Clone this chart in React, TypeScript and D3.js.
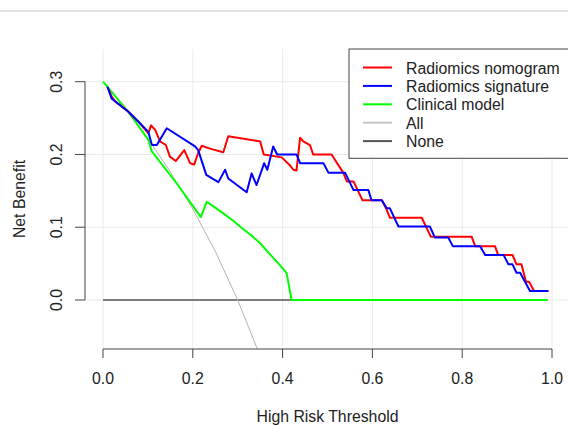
import React from "react";
import * as d3 from "d3";

const W = 568;
const H = 426;

const xTicks = [0, 0.2, 0.4, 0.6, 0.8, 1.0];
const yTicks = [0, 0.1, 0.2, 0.3];

const legendLabels = ["Radiomics nomogram", "Radiomics signature", "Clinical model", "All", "None"];
const legendColors = ["#ff0000", "#0000ff", "#00ff00", "#c4c4c4", "#555555"];

const nomogram: [number, number][] = [
  [0.01, 0.293], [0.019, 0.28], [0.027, 0.273], [0.056, 0.259], [0.079, 0.245], [0.101, 0.229],
  [0.107, 0.24], [0.116, 0.234], [0.127, 0.218], [0.14, 0.213], [0.149, 0.197], [0.162, 0.191],
  [0.181, 0.206], [0.194, 0.188], [0.203, 0.186], [0.212, 0.202], [0.22, 0.212], [0.238, 0.208],
  [0.268, 0.203], [0.279, 0.225], [0.35, 0.218], [0.358, 0.2], [0.398, 0.196], [0.415, 0.186],
  [0.424, 0.179], [0.431, 0.178], [0.439, 0.223], [0.446, 0.218], [0.461, 0.213], [0.468, 0.2],
  [0.509, 0.2], [0.535, 0.175], [0.543, 0.163], [0.558, 0.163], [0.578, 0.137], [0.621, 0.137],
  [0.632, 0.124], [0.639, 0.113], [0.71, 0.113], [0.73, 0.087], [0.821, 0.087], [0.829, 0.074],
  [0.873, 0.074], [0.88, 0.062], [0.912, 0.062], [0.921, 0.049], [0.932, 0.049], [0.942, 0.025],
  [0.949, 0.025], [0.96, 0.0124], [0.992, 0.0124],
];

const signature: [number, number][] = [
  [0.01, 0.293], [0.019, 0.277], [0.056, 0.259], [0.079, 0.245], [0.101, 0.231], [0.109, 0.213],
  [0.12, 0.213], [0.142, 0.236], [0.205, 0.211], [0.212, 0.206], [0.23, 0.172], [0.257, 0.162],
  [0.272, 0.179], [0.279, 0.167], [0.32, 0.148], [0.331, 0.174], [0.342, 0.158], [0.359, 0.188],
  [0.366, 0.179], [0.379, 0.211], [0.388, 0.2], [0.431, 0.2], [0.439, 0.188], [0.491, 0.188],
  [0.502, 0.175], [0.539, 0.175], [0.558, 0.151], [0.591, 0.151], [0.598, 0.137], [0.621, 0.137],
  [0.632, 0.126], [0.639, 0.126], [0.658, 0.101], [0.728, 0.101], [0.739, 0.086], [0.769, 0.086],
  [0.779, 0.074], [0.84, 0.074], [0.851, 0.062], [0.892, 0.062], [0.903, 0.049], [0.912, 0.049],
  [0.921, 0.0375], [0.929, 0.0375], [0.951, 0.0124], [0.992, 0.0124],
];

const clinical: [number, number][] = [
  [0, 0.3], [0.056, 0.259], [0.101, 0.22], [0.108, 0.205], [0.168, 0.157], [0.218, 0.114],
  [0.231, 0.135], [0.25, 0.127], [0.268, 0.119], [0.29, 0.109], [0.305, 0.101], [0.33, 0.089],
  [0.35, 0.078], [0.37, 0.064], [0.394, 0.048], [0.409, 0.037], [0.42, 0], [0.99, 0],
];

const treatAll: [number, number][] = [
  [0, 0.3], [0.05, 0.263], [0.1, 0.222], [0.15, 0.176], [0.2, 0.125], [0.25, 0.067],
  [0.3, 0.0], [0.35, -0.077],
];

const treatNone: [number, number][] = [
  [0, 0], [0.99, 0],
];

export default function App() {
  const x = d3.scaleLinear().domain([0, 1]).range([103, 552]);
  const y = d3.scaleLinear().domain([0, 0.3]).range([300, 81.7]);
  const line = d3.line<[number, number]>().x((d) => x(d[0])).y((d) => y(d[1]));

  const plotL = 85, plotR = 570, plotT = 49, plotB = 349;
  const font = "'Liberation Sans', Arial, sans-serif";
  const fs = 15.8;
  const txt = "#222";
  const axisCol = "#444";

  const legX = 349, legY = 49, legRowY0 = 67.5, legStep = 18.4;

  return (
    <svg width={W} height={H} style={{ position: "absolute", left: 0, top: 0, background: "#fff" }}
      fontFamily={font}>
      <rect x={0} y={0} width={W} height={H} fill="#fff" />
      <line x1={0} x2={W} y1={11} y2={11} stroke="#e2e2e2" strokeWidth={2} />
      <defs>
        <clipPath id="plotclip">
          <rect x={plotL} y={plotT} width={plotR - plotL} height={plotB - plotT} />
        </clipPath>
      </defs>
      {/* grid */}
      <g stroke="#ebebeb" strokeWidth={1}>
        {xTicks.map((t) => (
          <line key={"gx" + t} x1={x(t)} x2={x(t)} y1={plotT} y2={plotB} />
        ))}
        {yTicks.map((t) => (
          <line key={"gy" + t} x1={plotL} x2={W} y1={y(t)} y2={y(t)} />
        ))}
      </g>
      {/* curves */}
      <g clipPath="url(#plotclip)" fill="none" strokeLinejoin="round">
        <path d={line(treatNone) || ""} stroke={legendColors[4]} strokeWidth={1.5} />
        <path d={line(treatAll) || ""} stroke="#b4b4b4" strokeWidth={1} />
        <path d={line(clinical) || ""} stroke={legendColors[2]} strokeWidth={2} />
        <path d={line(nomogram) || ""} stroke={legendColors[0]} strokeWidth={2} />
        <path d={line(signature) || ""} stroke={legendColors[1]} strokeWidth={2} />
      </g>
      {/* y axis */}
      <g stroke={axisCol} strokeWidth={1}>
        <line x1={plotL} x2={plotL} y1={y(0.3)} y2={y(0)} />
        {yTicks.map((t) => (
          <line key={"yt" + t} x1={plotL - 10} x2={plotL} y1={y(t)} y2={y(t)} />
        ))}
      </g>
      {yTicks.map((t) => (
        <text key={"yl" + t} transform={`translate(62,${y(t)}) rotate(-90)`} textAnchor="middle"
          fontSize={fs} fill={txt}>{d3.format(".1f")(t)}</text>
      ))}
      {/* x axis */}
      <g stroke={axisCol} strokeWidth={1}>
        <line x1={x(0)} x2={x(1)} y1={plotB} y2={plotB} />
        {xTicks.map((t) => (
          <line key={"xt" + t} x1={x(t)} x2={x(t)} y1={plotB} y2={plotB + 9} />
        ))}
      </g>
      {xTicks.map((t) => (
        <text key={"xl" + t} x={x(t)} y={384} textAnchor="middle" fontSize={fs} fill={txt}>
          {d3.format(".1f")(t)}
        </text>
      ))}
      <text x={(plotL + plotR) / 2} y={422} textAnchor="middle" fontSize={fs} fill={txt}>High Risk Threshold</text>
      <text transform={`translate(25,${(plotT + plotB) / 2}) rotate(-90)`} textAnchor="middle" fontSize={fs} fill={txt}>
        Net Benefit
      </text>
      {/* legend */}
      <rect x={legX} y={legY} width={W - legX + 5} height={158.3 - legY} fill="#fff" stroke="#444" strokeWidth={1} />
      {legendLabels.map((lab, i) => (
        <g key={lab}>
          <line x1={363} x2={392} y1={legRowY0 + i * legStep} y2={legRowY0 + i * legStep}
            stroke={legendColors[i]} strokeWidth={2} />
          <text x={406} y={legRowY0 + i * legStep + 6} fontSize={fs} fill={txt}>{lab}</text>
        </g>
      ))}
    </svg>
  );
}
